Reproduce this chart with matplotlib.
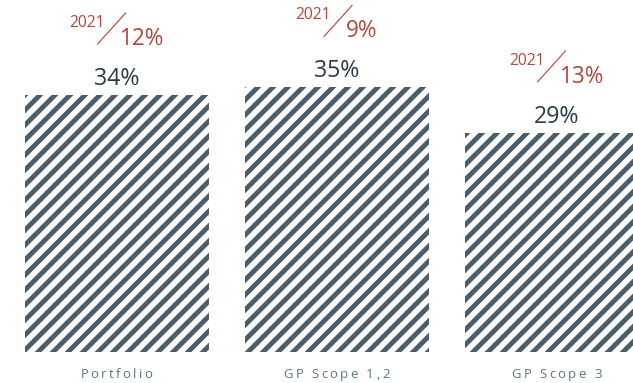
import matplotlib.pyplot as plt
from matplotlib.lines import Line2D
from matplotlib.transforms import IdentityTransform

categories = ["Portfolio", "GP Scope 1,2", "GP Scope 3"]
values = [34, 35, 29]
prior_values = [12, 9, 13]
prior_year = "2021"

bar_color = "#4a5d6a"
text_color = "#2b3a45"
red = "#b4463c"
cat_color = "#5d7486"

plt.rcParams['font.family'] = ['Open Sans', 'DejaVu Sans']
plt.rcParams['hatch.linewidth'] = 3.9

dpi = 90
fig = plt.figure(figsize=(633 / dpi, 383 / dpi), dpi=dpi)
ax = fig.add_axes([0, 31 / 383, 1, 352 / 383])
ax.set_xlim(-116.5 / 220, (633 - 116.5) / 220)
ax.set_ylim(0, 352 / 7.56)
ax.axis('off')

x = range(len(categories))
ax.bar(x, values, width=184 / 220, facecolor='white', edgecolor=bar_color,
       linewidth=0, hatch='//')

renderer = fig.canvas.get_renderer()

for i, v in enumerate(values):
    ax.annotate(f"{v}%", xy=(i, v), xytext=(0, 10), textcoords='offset pixels',
                ha='center', va='baseline', fontsize=18.5, color=text_color)

    t_year = ax.annotate(prior_year, xy=(i, v), xytext=(0, 68), textcoords='offset pixels',
                         ha='left', va='baseline', fontsize=12.5, color=red)
    t_val = ax.annotate(f"{prior_values[i]}%", xy=(i, v), xytext=(0, 50),
                        textcoords='offset pixels', ha='left', va='baseline',
                        fontsize=18, color=red)
    w1 = t_year.get_window_extent(renderer).width
    w2 = t_val.get_window_extent(renderer).width
    start = -(w1 + 15 + w2) / 2
    t_year.xyann = (start, 68)
    t_val.xyann = (start + w1 + 15, 50)

    # thin slash between the year and the prior value
    px, py = ax.transData.transform((i, v))
    yr = px + start + w1
    fig.add_artist(Line2D([yr - 7, yr + 21], [py + 51, py + 82], color=red,
                          linewidth=0.9, transform=IdentityTransform()))


def text_width(s, size):
    t = fig.text(0, 0, s, fontsize=size)
    w = t.get_window_extent(renderer).width
    t.remove()
    return w


# category names with letter spacing
cat_size = 10.5
spacing = 2.4
space_w = text_width("n n", cat_size) - text_width("nn", cat_size)
for i, name in enumerate(categories):
    px, _ = ax.transData.transform((i, 0))
    widths = [space_w if c == ' ' else text_width(c, cat_size) for c in name]
    total = sum(widths) + spacing * (len(name) - 1)
    cx = px - total / 2
    for c, w in zip(name, widths):
        fig.text(cx, 5, c, fontsize=cat_size, color=cat_color, ha='left',
                 va='baseline', transform=IdentityTransform())
        cx += w + spacing

fig.savefig("out.png", dpi=dpi)
